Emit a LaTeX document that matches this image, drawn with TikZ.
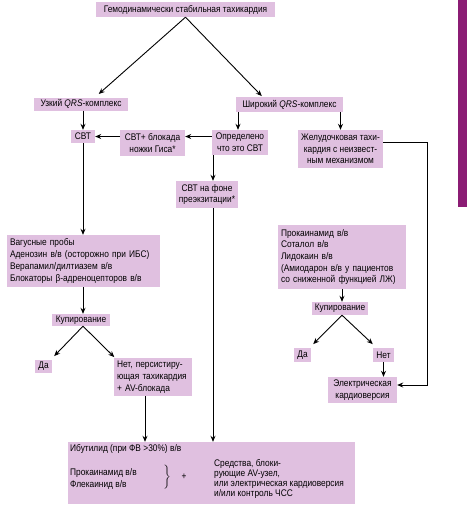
\documentclass[tikz,border=0pt]{standalone}
\usepackage{fontspec}
\setmainfont{Liberation Sans}[FakeStretch=0.87]
\usetikzlibrary{arrows.meta,calc}
\definecolor{BoxClr}{rgb}{0.8784,0.7529,0.8784}
\definecolor{BarClr}{rgb}{0.5451,0.1098,0.4549}

\begin{document}
\begin{tikzpicture}[x=1pt,y=-1pt,
  box/.style={fill=BoxClr,inner xsep=3pt,inner ysep=1pt,align=center,
    font=\fontsize{9.6}{11.7}\selectfont},
  lbox/.style={box,align=left},
  txt/.style={inner sep=0pt,align=left,font=\fontsize{9.6}{11.2}\selectfont},
  arr/.style={line width=0.9pt,-{Stealth[length=6pt,width=5pt]}},
  ln/.style={line width=0.9pt}]
\useasboundingbox (0,0) rectangle (467,509);
\fill[BarClr] (458,0) rectangle (467,207);

\node[box,minimum width=179pt,minimum height=15pt] (top) at (185.5,9.5) {Гемодинамически стабильная тахикардия};
\node[box,minimum width=94pt,minimum height=13pt] (narrow) at (81,104) {Узкий \textit{QRS}-комплекс};
\node[box,minimum width=107pt,minimum height=15pt] (wide) at (289.5,104.5) {Широкий \textit{QRS}-комплекс};

\node[box,minimum width=24pt,minimum height=13pt] (svt) at (83,136.5) {СВТ};
\node[box,minimum width=65pt,minimum height=26pt] (bbb) at (152.5,143) {СВТ+ блокада\\ножки Гиса*};
\node[box,minimum width=56pt,minimum height=25pt] (defsvt) at (240,142.5) {Определено\\что это СВТ};
\node[box,minimum width=85pt,minimum height=38pt] (vt) at (340.5,149) {Желудочковая тахи-\\кардия с неизвест-\\ным механизмом};
\node[box,minimum width=50pt,minimum height=27pt] (preex) at (207,194.5) {СВТ на фоне\\преэкзитации*};

\node[lbox,text width=147pt,minimum height=52pt] (vagal) at (83.5,261) {Вагусные пробы\\Аденозин в/в (осторожно при ИБС)\\Верапамил/дилтиазем в/в\\Блокаторы β-адреноцепторов в/в};
\node[box,minimum width=58pt,minimum height=12pt] (kupA) at (81,320) {Купирование};
\node[box,minimum width=17pt,minimum height=13pt] (daA) at (43.5,366.5) {Да};
\node[lbox,text width=72pt,minimum height=38pt] (netA) at (153,377) {Нет, персистиру-\\ющая тахикардия\\+ AV-блокада};

\node[lbox,text width=122pt,minimum height=64pt] (proc) at (342,257) {Прокаинамид в/в\\Соталол в/в\\Лидокаин в/в\\(Амиодарон в/в у пациентов\\со сниженной функцией ЛЖ)};
\node[box,minimum width=56pt,minimum height=13pt] (kupB) at (340,308.5) {Купирование};
\node[box,minimum width=15pt,minimum height=14pt] (daB) at (302.5,355) {Да};
\node[box,minimum width=21pt,minimum height=14pt] (netB) at (383.5,355) {Нет};
\node[box,minimum width=69pt,minimum height=26pt] (cardio) at (362.5,390) {Электрическая\\кардиоверсия};

\node[box,minimum width=287pt,minimum height=62pt] (final) at (211.5,473) {};
\node[txt,anchor=west] (ibut) at (70,449) {Ибутилид (при ФВ >30\%) в/в};
\node[txt,anchor=west] (prok) at (70,479) {Прокаинамид в/в\\Флекаинид в/в};
\node[inner sep=0pt] (brace) at (167,477) {$\bigg\}$};
\node[txt] (plus) at (184,477) {+};
\node[txt,anchor=west,font=\fontsize{9.6}{10}\selectfont] (means) at (214,479) {Средства, блоки-\\рующие AV-узел,\\или электрическая кардиоверсия\\и/или контроль ЧСС};

\coordinate (lane) at (213,0);
\coordinate (rail) at (427,0);
\coordinate (vtout) at ([yshift=7pt]vt.east);
\coordinate (cardin) at ([yshift=5pt]cardio.east);

\draw[arr,shorten >=5pt] (top.south) -- ([xshift=14pt]narrow.north);
\draw[arr,shorten >=1pt] (top.south) -- ([xshift=-27pt]wide.north);
\draw[arr] (svt.north |- narrow.south) -- (svt.north);
\draw[arr] ([xshift=-2pt]defsvt.north |- wide.south) -- ([xshift=-2pt]defsvt.north);
\draw[arr] (vt.north |- wide.south) -- (vt.north);
\draw[arr] (defsvt.west |- svt) -- (bbb.east |- svt);
\draw[arr] (bbb.west |- svt) -- (svt.east);
\draw[arr] (lane |- defsvt.south) -- (lane |- preex.north);
\draw[arr] (lane |- preex.south) -- (lane |- final.north);
\draw[arr] (vtout) -- (rail |- vtout) |- (cardin);

\draw[arr] (svt.south) -- (svt.south |- vagal.north);
\draw[arr] (svt.south |- vagal.south) -- (svt.south |- kupA.north);
\draw[arr,shorten >=1pt] ([xshift=2pt]kupA.south) -- ([shift={(10pt,3pt)}]daA.north);
\draw[arr,shorten >=1pt] ([xshift=2pt]kupA.south) -- ([xshift=-38pt]netA.north);
\draw[arr] ([xshift=-8pt]netA.south) -- ([xshift=-8pt]netA.south |- final.north);

\draw[arr] (proc.south) -- (proc.south |- kupB.north);
\draw[arr,shorten >=1pt] ([xshift=2pt]kupB.south) -- ([shift={(10pt,3pt)}]daB.north);
\draw[arr,shorten >=1pt] ([xshift=2pt]kupB.south) -- ([shift={(-10pt,3pt)}]netB.north);
\draw[arr] (netB.south) -- (netB.south |- cardio.north);
\end{tikzpicture}
\end{document}
